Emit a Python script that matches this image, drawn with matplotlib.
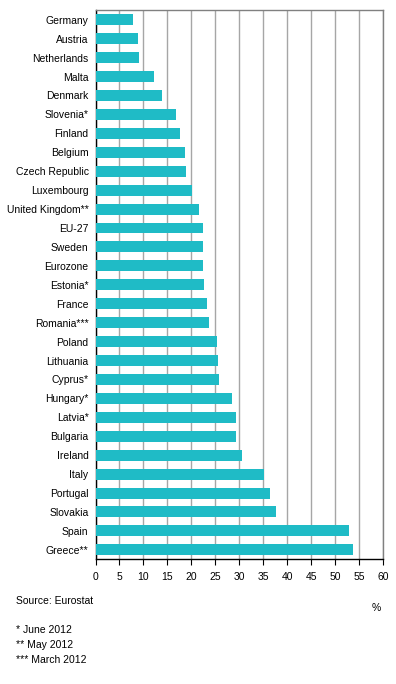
import matplotlib
matplotlib.use("Agg")
import matplotlib.pyplot as plt

countries = ["Germany", "Austria", "Netherlands", "Malta", "Denmark", "Slovenia*",
             "Finland", "Belgium", "Czech Republic", "Luxembourg", "United Kingdom**",
             "EU-27", "Sweden", "Eurozone", "Estonia*", "France", "Romania***",
             "Poland", "Lithuania", "Cyprus*", "Hungary*", "Latvia*", "Bulgaria",
             "Ireland", "Italy", "Portugal", "Slovakia", "Spain", "Greece**"]
values = [7.9, 8.9, 9.1, 12.2, 13.9, 16.8, 17.6, 18.7, 18.9, 20.1, 21.6,
          22.4, 22.4, 22.4, 22.6, 23.3, 23.7, 25.3, 25.6, 25.8, 28.5, 29.3, 29.3,
          30.6, 35.1, 36.4, 37.6, 52.8, 53.7]
xticks = list(range(0, 61, 5))
footnotes = ["* June 2012", "** May 2012", "*** March 2012"]

plt.rcParams['font.family'] = ['Liberation Sans', 'DejaVu Sans']
W, H = 396, 684
fs = 7.45
fig = plt.figure(figsize=(W / 100, H / 100), dpi=100)
left, right, top, bottom = 95.5, 383, 10.3, 559.3
ax = fig.add_axes([left / W, 1 - bottom / H, (right - left) / W, (bottom - top) / H])

n = len(countries)
ypos = list(range(n))
ax.barh(ypos, values, height=0.58, color="#1FBBC6", zorder=3)
ax.set_ylim(n - 0.5, -0.5)
ax.set_xlim(0, 60)
ax.set_yticks(ypos)
ax.set_yticklabels(countries, fontsize=fs)
ax.set_xticks(xticks)
ax.set_xticklabels([str(t) for t in xticks], fontsize=fs)
ax.tick_params(axis='y', length=0, pad=5)
ax.tick_params(axis='x', direction='out', length=4, width=0.8, color='black', pad=5)
ax.xaxis.grid(True, color="#A6A6A6", linewidth=1.0, zorder=0)
ax.set_axisbelow(True)
for s in ("top", "right"):
    ax.spines[s].set_color("#808080")
    ax.spines[s].set_linewidth(1.0)
for s in ("left", "bottom"):
    ax.spines[s].set_color("black")
    ax.spines[s].set_linewidth(1.0)

fig.text(16 / W, 1 - 601 / H, "Source: Eurostat", fontsize=fs, va='center', ha='left')
fig.text(376 / W, 1 - 608 / H, "%", fontsize=fs, va='center', ha='center')
for i, t in enumerate(footnotes):
    fig.text(16 / W, 1 - (630 + 14.8 * i) / H, t, fontsize=fs, va='center', ha='left')

fig.savefig("out.png", dpi=100, facecolor="white")
